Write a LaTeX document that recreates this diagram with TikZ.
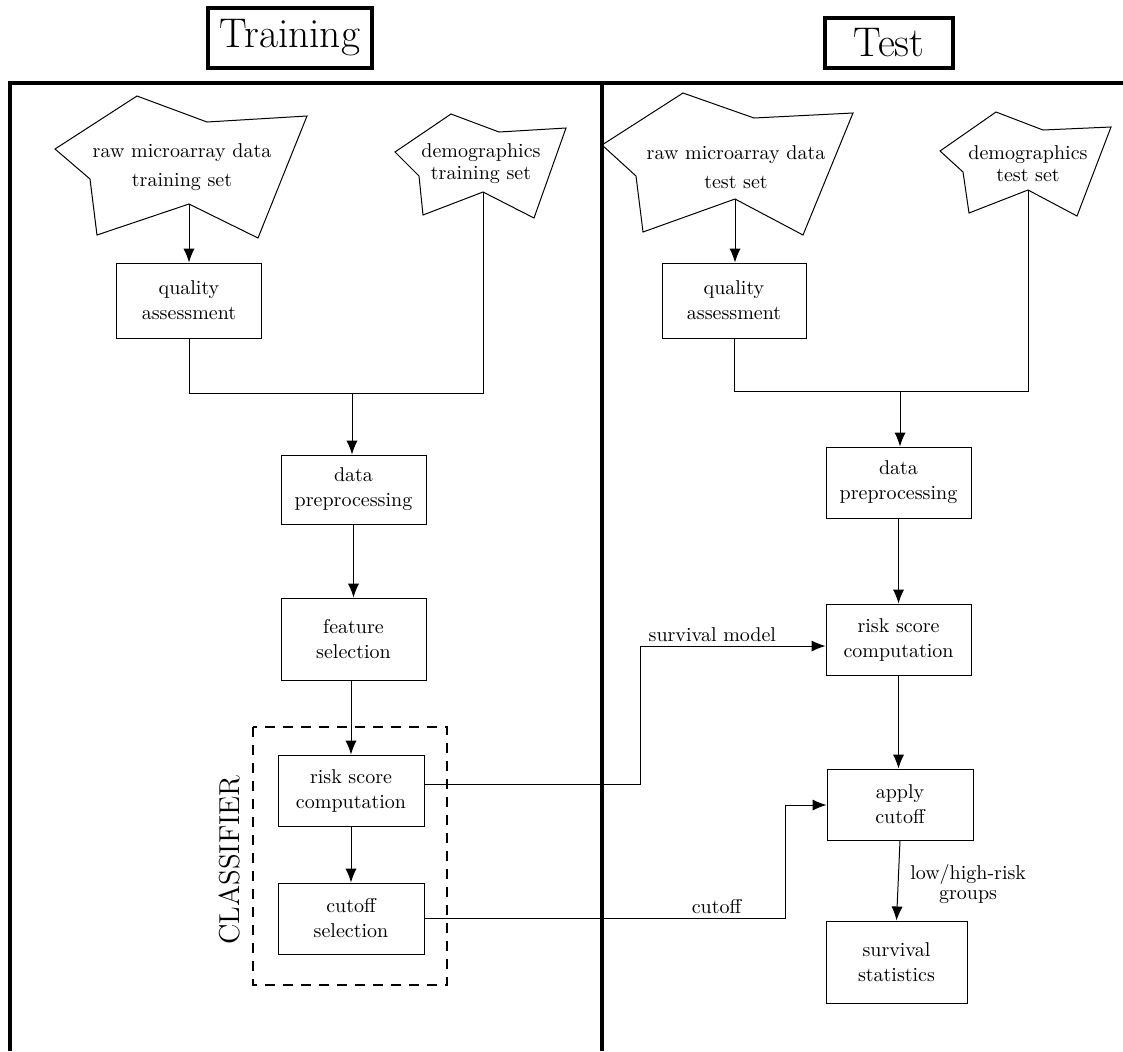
\documentclass[tikz,border=0pt]{standalone}
\usetikzlibrary{arrows.meta}
\begin{document}
\begin{tikzpicture}[x=0.5pt,y=-0.5pt,
  line width=0.5pt,
  box/.style={draw, align=center, font=\fontsize{10}{12.5}\selectfont,
    minimum width=72.5pt, minimum height=35.5pt, inner sep=2pt},
  shapeline/.style={line width=0.5pt, line join=miter},
  lbl/.style={font=\fontsize{10}{12.5}\selectfont, align=center},
  riskgrp/.style={font=\fontsize{10}{10}\selectfont, align=center},
  rawlbl/.style={font=\fontsize{10}{14.5}\selectfont, align=center},
  demolbl/.style={font=\fontsize{10}{11}\selectfont, align=center},
  arr/.style={-{Latex[length=7pt,width=5.6pt]}},
  frameline/.style={line width=2.2pt},
  titlebox/.style={draw, line width=2pt, font=\huge, inner ysep=5pt},
]
\useasboundingbox (0,0) rectangle (1123,1051);

% frame
\draw[frameline] (8,83) -- (1123,83);
\draw[frameline] (10,83) -- (10,1051);
\draw[frameline] (602,83) -- (602,1051);

% titles
\node[titlebox, minimum width=82pt, minimum height=30pt] (tTrain) at (290,38) {Training};
\node[titlebox, minimum width=64pt, minimum height=25pt] (tTest) at (889,43) {Test};

% input shapes
\draw[shapeline] (55,149) -- (137,96) -- (207,122) -- (307,116) -- (258,238) -- (189,204) -- (97,235) -- (90,179) -- cycle;
\coordinate (p1b) at (189,204);
\node[rawlbl] (p1t) at (182,167) {raw microarray data\\training set};

\draw[shapeline] (395,152) -- (451,114) -- (499,132) -- (566,128) -- (534,218) -- (483,192) -- (423,215) -- (419,176) -- cycle;
\coordinate (p2b) at (483,192);
\node[demolbl] (p2t) at (481,164) {demographics\\training set};

\draw[shapeline] (602,145) -- (683,93) -- (754,118) -- (853,113) -- (803,235) -- (735,199) -- (643,232) -- (636,176) -- cycle;
\coordinate (p3b) at (735,199);
\node[rawlbl] (p3t) at (736,167) {raw microarray data\\test set};

\draw[shapeline] (940,151) -- (996,112) -- (1043,130) -- (1111,127) -- (1077,216) -- (1028,190) -- (969,213) -- (963,172) -- cycle;
\coordinate (p4b) at (1028,190);
\node[demolbl] (p4t) at (1028,164) {demographics\\test set};

% training boxes
\node[box, minimum height=37.5pt] (qaL) at (189,300.5) {quality\\assessment};
\node[box, minimum height=34.5pt] (dpL) at (353.5,489.5) {data\\preprocessing};
\node[box, minimum height=41pt] (fsL) at (353.5,639) {feature\\selection};
\node[box, minimum width=73pt] (rsL) at (351,790.5) {risk score\\computation};
\node[box, minimum width=73pt] (csL) at (351,918.5) {cutoff\\selection};

% test boxes
\node[box, minimum width=72pt, minimum height=37.5pt] (qaR) at (734,300.5) {quality\\assessment};
\node[box] (dpR) at (898.5,482.5) {data\\preprocessing};
\node[box] (rsR) at (898.5,639.5) {risk score\\computation};
\node[box, minimum width=73pt] (acR) at (900,804.5) {apply\\cutoff};
\node[box, minimum width=70.5pt, minimum height=41pt] (ssR) at (896.5,962) {survival\\statistics};

% classifier frame
\draw[dash pattern=on 5pt off 4pt, line width=0.9pt] (253,727) rectangle (447,985);
\node[rotate=90, font=\Large] (clf) at (230,860) {CLASSIFIER};

% training connectors
\coordinate (mL) at (352,393);
\draw[arr] (p1b) -- (p1b |- qaL.north);
\draw (qaL.south) |- (mL);
\draw (p2b) |- (mL);
\draw[arr] (mL) -- (mL |- dpL.north);
\draw[arr] (dpL.south) -- (dpL.south |- fsL.north);
\draw[arr] (fsL.south -| rsL.north) -- (rsL.north);
\draw[arr] (rsL.south) -- (csL.north);

% test connectors
\coordinate (mR) at (900,391);
\draw[arr] (p3b) -- (p3b |- qaR.north);
\draw (qaR.south) |- (mR);
\draw (p4b) |- (mR);
\draw[arr] (mR) -- (mR |- dpR.north);
\draw[arr] (dpR.south) -- (rsR.north);
\draw[arr] (rsR.south) -- (rsR.south |- acR.north);
\draw[arr] (acR.south) -- node[riskgrp, anchor=west, xshift=2.5pt, pos=0.55] {low/high-risk\\groups} (ssR.north);

% cross connectors
\coordinate (smA) at (640,784);
\coordinate (smB) at (640,646);
\draw[arr] (smA -| rsL.east) -- (smA) -- (smB) -- node[lbl, above, pos=0.39, inner sep=2pt] {survival model} (smB -| rsR.west);
\coordinate (coA) at (785,918);
\coordinate (coB) at (785,805);
\draw[arr] (coA -| csL.east) -- node[lbl, above, pos=0.81, inner sep=2pt] {cutoff} (coA) -- (coB) -- (coB -| acR.west);
\end{tikzpicture}
\end{document}
